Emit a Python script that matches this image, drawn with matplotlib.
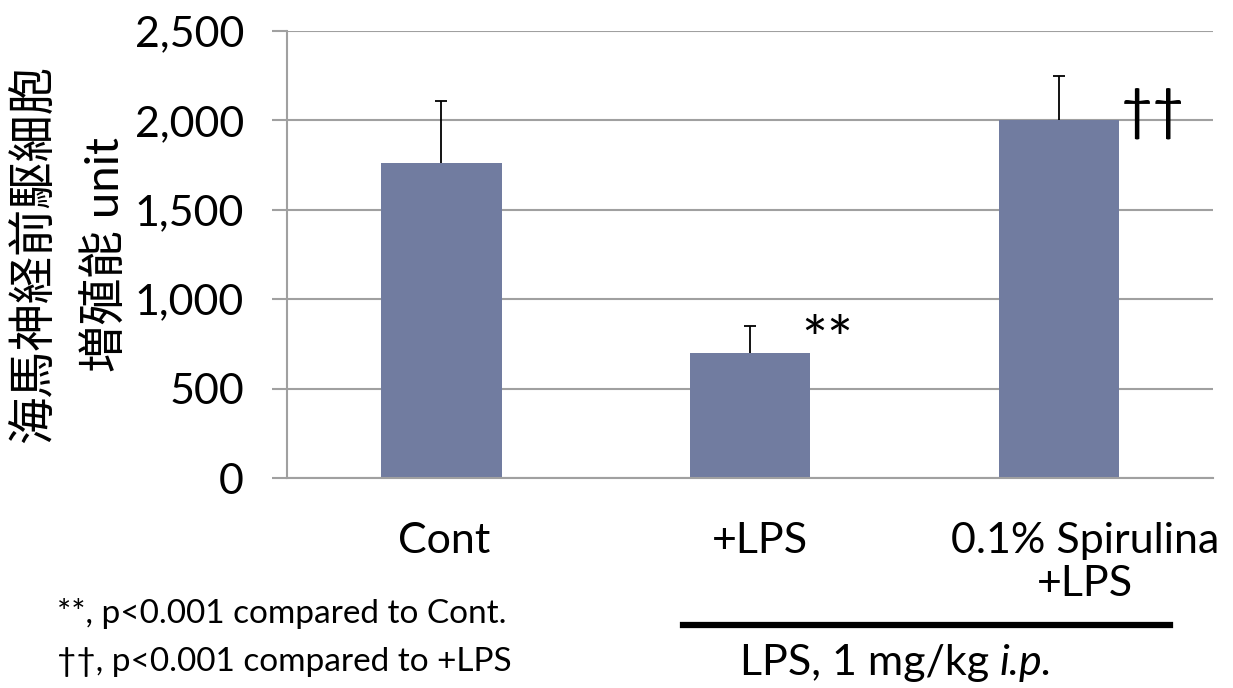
import numpy as np
import matplotlib.pyplot as plt
from matplotlib.transforms import ScaledTranslation

groups = ["Cont", "+LPS", "0.1% Spirulina\n+LPS"]
means = [1760, 700, 2000]
errors = [350, 150, 250]
marks = ["", "**", "††"]
yticks = [0, 500, 1000, 1500, 2000, 2500]

bar_color = "#717ca0"
grid_color = "#a0a0a0"
fam = ["Lato", "Noto Sans CJK JP", "DejaVu Sans"]

plt.rcParams["font.family"] = fam

fig = plt.figure(figsize=(12.33, 6.88), dpi=100)
ax = fig.add_axes([0.2328, 0.3052, 0.751, 0.650])

x = np.arange(len(groups))
means = np.array(means)
errors = np.array(errors)
ax.bar(x, means, width=0.39, color=bar_color, zorder=2)
# upper error bars only, cap at the top
ax.vlines(x, means, means + errors, color="black", linewidth=1.3, zorder=3)
ax.plot(x, means + errors, linestyle="none", marker="_", markersize=9,
        markeredgewidth=1.3, color="black", zorder=3)

# significance marks next to bars
ax.text(1.25, 750, marks[1], fontsize=44, ha="center", va="center")
ax.text(2.305, 2040, marks[2], fontsize=40, ha="center", va="center")

ax.set_xlim(-0.5, 2.5)
ax.set_ylim(0, 2500)
ax.set_yticks(yticks)
ax.set_yticklabels([f"{v:,}" for v in yticks])
ax.yaxis.grid(True, color=grid_color, linewidth=1.5, zorder=0)
ax.set_axisbelow(True)

for s in ["top", "right"]:
    ax.spines[s].set_visible(False)
for s in ["left", "bottom"]:
    ax.spines[s].set_color(grid_color)
    ax.spines[s].set_linewidth(1.5)

ax.tick_params(axis="y", length=11, width=1.5, color=grid_color, pad=20, labelsize=31)
ax.set_xticks(x)
ax.set_xticklabels(groups, fontsize=31, linespacing=1.15)
ax.tick_params(axis="x", length=0, pad=32)
# labels sit a little right of the bar centres in the original
for lbl, dx in zip(ax.get_xticklabels(), [3, 10, 26]):
    lbl.set_transform(lbl.get_transform() + ScaledTranslation(dx / 100, 0, fig.dpi_scale_trans))

ax.set_ylabel("海馬神経前駆細胞\n増殖能 unit", fontsize=34, linespacing=1.75,
              labelpad=5, multialignment="center")

# footnotes and LPS bracket
fig.text(0.046, 0.109, "**, p<0.001 compared to Cont.", fontsize=24, va="center")
fig.text(0.046, 0.038, "††, p<0.001 compared to +LPS", fontsize=24, va="center")
fig.add_artist(plt.Line2D([0.554, 0.949], [0.092, 0.092], color="black", linewidth=4.5))
t1 = fig.text(0.600, 0.036, "LPS, 1 mg/kg ", fontsize=31, va="center")
fig.canvas.draw()
bb = t1.get_window_extent().transformed(fig.transFigure.inverted())
fig.text(bb.x1, 0.036, "i.p.", fontsize=31, va="center", style="italic")

fig.savefig("out.png", dpi=100)
